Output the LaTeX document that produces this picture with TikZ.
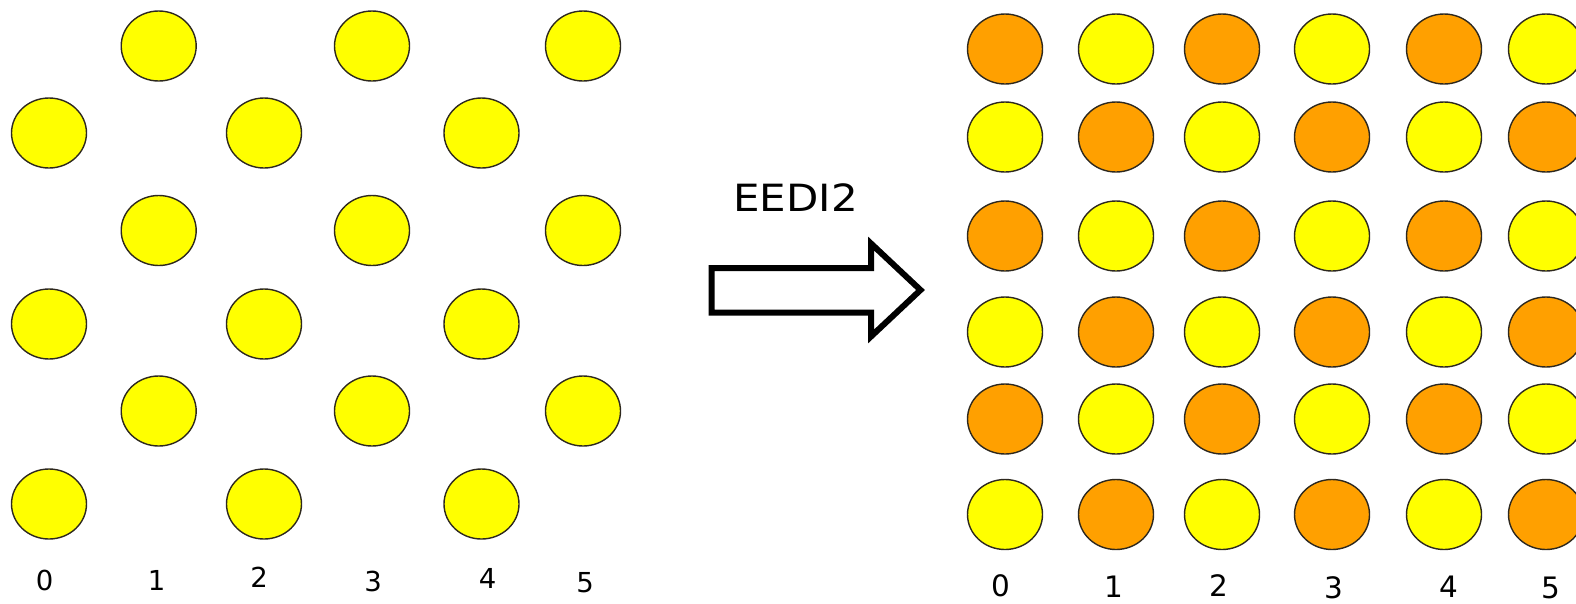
\documentclass[tikz,border=0pt]{standalone}
\usepackage{fontspec}
\setmainfont{DejaVu Sans}
\newfontfamily\labelfont[FakeStretch=1.12]{DejaVu Sans}
\usetikzlibrary{shapes.geometric}
\definecolor{pixyellow}{RGB}{255,255,0}
\definecolor{pixorange}{RGB}{255,160,0}
\definecolor{rimgray}{RGB}{45,40,30}
\tikzset{
  pix/.style={ellipse, draw=rimgray, line width=1.4pt,
    minimum width=75pt, minimum height=70pt, inner sep=0pt},
  orig/.style={pix, fill=pixyellow},
  interp/.style={pix, fill=pixorange},
  colnum/.style={inner sep=0pt, font=\fontsize{27.5}{30}\selectfont},
  colnumR/.style={inner sep=0pt, font=\fontsize{29.5}{33}\selectfont},
  bigarrow/.style={draw=black, line width=6pt, line join=miter, fill=white}
}
\begin{document}
\begin{tikzpicture}[x=1pt, y=-1pt]
  \useasboundingbox (0,0) rectangle (1576,603);
  \clip (0,0) rectangle (1576,603);

  % field sampled on alternating positions
  \foreach \yy [count=\r from 0] in {46,133,230.5,324,411,504} {
    \foreach \xx [count=\c from 0] in {49,158.7,264,372,481.5,583} {
      \pgfmathtruncatemacro\parity{mod(\r+\c,2)}
      \ifnum\parity=1
        \node[orig] (L-\r-\c) at (\xx,\yy) {};
      \fi
    }
  }
  \foreach \xx/\yy [count=\c from 0] in
      {44.5/580, 156.7/580, 259/577.5, 373/581, 487.5/578, 585/583}
    \node[colnum] (Lnum-\c) at (\xx,\yy) {\c};

  % interpolation step
  \node[inner sep=0pt, font=\labelfont\fontsize{37.5}{44}\selectfont]
    (method) at (795.5,198) {EEDI2};
  \draw[bigarrow] (711.7,268) -- (871,268) -- (871,243.5) -- (920.5,290)
    -- (871,336.5) -- (871,312.5) -- (711.7,312.5) -- cycle;

  % full grid: original samples in yellow, interpolated ones in orange
  \foreach \yy [count=\r from 0] in {49,137,236,332,419,514.5} {
    \foreach \xx [count=\c from 0] in {1005,1116,1222,1332,1444,1546} {
      \pgfmathtruncatemacro\parity{mod(\r+\c,2)}
      \ifnum\parity=1
        \node[orig] (R-\r-\c) at (\xx,\yy) {};
      \else
        \node[interp] (R-\r-\c) at (\xx,\yy) {};
      \fi
    }
  }
  \foreach \xx/\yy [count=\c from 0] in
      {1001/585.5, 1113.5/587, 1218.5/585.5, 1333.5/588, 1449/586.5, 1550.5/588}
    \node[colnumR] (Rnum-\c) at (\xx,\yy) {\c};
\end{tikzpicture}
\end{document}
